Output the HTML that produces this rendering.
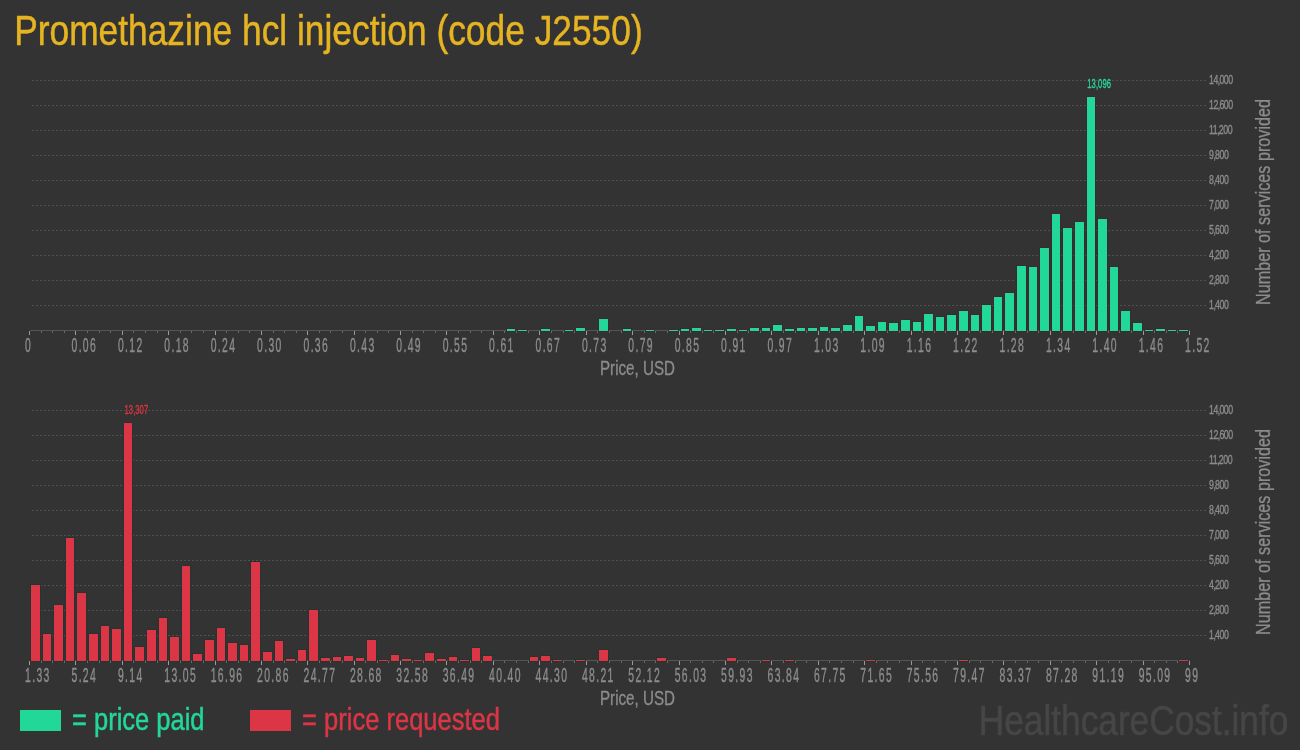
<!DOCTYPE html>
<html><head><meta charset="utf-8"><style>
html,body{margin:0;padding:0;background:#333333;width:1300px;height:750px;overflow:hidden}
svg{display:block;will-change:transform}
</style></head><body>
<svg shape-rendering="crispEdges" width="1300" height="750" viewBox="0 0 1300 750">
<rect width="1300" height="750" fill="#333333"/>
<text x="14.2" y="45" font-size="42" fill="#e6b422" stroke="#e6b422" stroke-width="0.5" textLength="628.5" lengthAdjust="spacingAndGlyphs" font-family="Liberation Sans, sans-serif">Promethazine hcl injection (code J2550)</text>
<line x1="32" y1="80.5" x2="1206" y2="80.5" stroke="#505050" stroke-width="1" stroke-dasharray="2,2"/>
<line x1="32" y1="105.5" x2="1206" y2="105.5" stroke="#505050" stroke-width="1" stroke-dasharray="2,2"/>
<line x1="32" y1="130.5" x2="1206" y2="130.5" stroke="#505050" stroke-width="1" stroke-dasharray="2,2"/>
<line x1="32" y1="155.5" x2="1206" y2="155.5" stroke="#505050" stroke-width="1" stroke-dasharray="2,2"/>
<line x1="32" y1="180.5" x2="1206" y2="180.5" stroke="#505050" stroke-width="1" stroke-dasharray="2,2"/>
<line x1="32" y1="205.5" x2="1206" y2="205.5" stroke="#505050" stroke-width="1" stroke-dasharray="2,2"/>
<line x1="32" y1="230.5" x2="1206" y2="230.5" stroke="#505050" stroke-width="1" stroke-dasharray="2,2"/>
<line x1="32" y1="255.5" x2="1206" y2="255.5" stroke="#505050" stroke-width="1" stroke-dasharray="2,2"/>
<line x1="32" y1="280.5" x2="1206" y2="280.5" stroke="#505050" stroke-width="1" stroke-dasharray="2,2"/>
<line x1="32" y1="305.5" x2="1206" y2="305.5" stroke="#505050" stroke-width="1" stroke-dasharray="2,2"/>
<line x1="29.5" y1="330.5" x2="1189.5" y2="330.5" stroke="#555555" stroke-width="1"/>
<rect x="506" y="328" width="10" height="4" fill="#3b2a30"/>
<rect x="507" y="329" width="8" height="2" fill="#22d898"/>
<rect x="517" y="329" width="11" height="3" fill="#3b2a30"/>
<rect x="518" y="330" width="9" height="1" fill="#22d898"/>
<rect x="540" y="328" width="11" height="4" fill="#3b2a30"/>
<rect x="541" y="329" width="9" height="2" fill="#22d898"/>
<rect x="564" y="329" width="10" height="3" fill="#3b2a30"/>
<rect x="565" y="330" width="8" height="1" fill="#22d898"/>
<rect x="575" y="327" width="11" height="5" fill="#3b2a30"/>
<rect x="576" y="328" width="9" height="3" fill="#22d898"/>
<rect x="598" y="318" width="11" height="14" fill="#3b2a30"/>
<rect x="599" y="319" width="9" height="12" fill="#22d898"/>
<rect x="622" y="328" width="10" height="4" fill="#3b2a30"/>
<rect x="623" y="329" width="8" height="2" fill="#22d898"/>
<rect x="645" y="329" width="10" height="3" fill="#3b2a30"/>
<rect x="646" y="330" width="8" height="1" fill="#22d898"/>
<rect x="668" y="329" width="11" height="3" fill="#3b2a30"/>
<rect x="669" y="330" width="9" height="1" fill="#22d898"/>
<rect x="680" y="328" width="10" height="4" fill="#3b2a30"/>
<rect x="681" y="329" width="8" height="2" fill="#22d898"/>
<rect x="691" y="327" width="11" height="5" fill="#3b2a30"/>
<rect x="692" y="328" width="9" height="3" fill="#22d898"/>
<rect x="703" y="329" width="10" height="3" fill="#3b2a30"/>
<rect x="704" y="330" width="8" height="1" fill="#22d898"/>
<rect x="714" y="329" width="11" height="3" fill="#3b2a30"/>
<rect x="715" y="330" width="9" height="1" fill="#22d898"/>
<rect x="726" y="328" width="11" height="4" fill="#3b2a30"/>
<rect x="727" y="329" width="9" height="2" fill="#22d898"/>
<rect x="738" y="329" width="10" height="3" fill="#3b2a30"/>
<rect x="739" y="330" width="8" height="1" fill="#22d898"/>
<rect x="749" y="327" width="11" height="5" fill="#3b2a30"/>
<rect x="750" y="328" width="9" height="3" fill="#22d898"/>
<rect x="761" y="327" width="10" height="5" fill="#3b2a30"/>
<rect x="762" y="328" width="8" height="3" fill="#22d898"/>
<rect x="772" y="324" width="11" height="8" fill="#3b2a30"/>
<rect x="773" y="325" width="9" height="6" fill="#22d898"/>
<rect x="784" y="328" width="11" height="4" fill="#3b2a30"/>
<rect x="785" y="329" width="9" height="2" fill="#22d898"/>
<rect x="796" y="327" width="10" height="5" fill="#3b2a30"/>
<rect x="797" y="328" width="8" height="3" fill="#22d898"/>
<rect x="807" y="327" width="11" height="5" fill="#3b2a30"/>
<rect x="808" y="328" width="9" height="3" fill="#22d898"/>
<rect x="819" y="326" width="10" height="6" fill="#3b2a30"/>
<rect x="820" y="327" width="8" height="4" fill="#22d898"/>
<rect x="830" y="327" width="11" height="5" fill="#3b2a30"/>
<rect x="831" y="328" width="9" height="3" fill="#22d898"/>
<rect x="842" y="324" width="11" height="8" fill="#3b2a30"/>
<rect x="843" y="325" width="9" height="6" fill="#22d898"/>
<rect x="854" y="315" width="10" height="17" fill="#3b2a30"/>
<rect x="855" y="316" width="8" height="15" fill="#22d898"/>
<rect x="865" y="325" width="11" height="7" fill="#3b2a30"/>
<rect x="866" y="326" width="9" height="5" fill="#22d898"/>
<rect x="877" y="321" width="10" height="11" fill="#3b2a30"/>
<rect x="878" y="322" width="8" height="9" fill="#22d898"/>
<rect x="888" y="322" width="11" height="10" fill="#3b2a30"/>
<rect x="889" y="323" width="9" height="8" fill="#22d898"/>
<rect x="900" y="319" width="11" height="13" fill="#3b2a30"/>
<rect x="901" y="320" width="9" height="11" fill="#22d898"/>
<rect x="912" y="321" width="10" height="11" fill="#3b2a30"/>
<rect x="913" y="322" width="8" height="9" fill="#22d898"/>
<rect x="923" y="313" width="11" height="19" fill="#3b2a30"/>
<rect x="924" y="314" width="9" height="17" fill="#22d898"/>
<rect x="935" y="316" width="10" height="16" fill="#3b2a30"/>
<rect x="936" y="317" width="8" height="14" fill="#22d898"/>
<rect x="946" y="314" width="11" height="18" fill="#3b2a30"/>
<rect x="947" y="315" width="9" height="16" fill="#22d898"/>
<rect x="958" y="310" width="11" height="22" fill="#3b2a30"/>
<rect x="959" y="311" width="9" height="20" fill="#22d898"/>
<rect x="970" y="314" width="10" height="18" fill="#3b2a30"/>
<rect x="971" y="315" width="8" height="16" fill="#22d898"/>
<rect x="981" y="304" width="11" height="28" fill="#3b2a30"/>
<rect x="982" y="305" width="9" height="26" fill="#22d898"/>
<rect x="993" y="296" width="10" height="36" fill="#3b2a30"/>
<rect x="994" y="297" width="8" height="34" fill="#22d898"/>
<rect x="1004" y="292" width="11" height="40" fill="#3b2a30"/>
<rect x="1005" y="293" width="9" height="38" fill="#22d898"/>
<rect x="1016" y="265" width="11" height="67" fill="#3b2a30"/>
<rect x="1017" y="266" width="9" height="65" fill="#22d898"/>
<rect x="1028" y="266" width="10" height="66" fill="#3b2a30"/>
<rect x="1029" y="267" width="8" height="64" fill="#22d898"/>
<rect x="1039" y="247" width="11" height="85" fill="#3b2a30"/>
<rect x="1040" y="248" width="9" height="83" fill="#22d898"/>
<rect x="1051" y="213" width="10" height="119" fill="#3b2a30"/>
<rect x="1052" y="214" width="8" height="117" fill="#22d898"/>
<rect x="1062" y="227" width="11" height="105" fill="#3b2a30"/>
<rect x="1063" y="228" width="9" height="103" fill="#22d898"/>
<rect x="1074" y="221" width="11" height="111" fill="#3b2a30"/>
<rect x="1075" y="222" width="9" height="109" fill="#22d898"/>
<rect x="1086" y="96" width="10" height="236" fill="#3b2a30"/>
<rect x="1087" y="97" width="8" height="234" fill="#22d898"/>
<rect x="1097" y="218" width="11" height="114" fill="#3b2a30"/>
<rect x="1098" y="219" width="9" height="112" fill="#22d898"/>
<rect x="1109" y="266" width="10" height="66" fill="#3b2a30"/>
<rect x="1110" y="267" width="8" height="64" fill="#22d898"/>
<rect x="1120" y="310" width="11" height="22" fill="#3b2a30"/>
<rect x="1121" y="311" width="9" height="20" fill="#22d898"/>
<rect x="1132" y="322" width="11" height="10" fill="#3b2a30"/>
<rect x="1133" y="323" width="9" height="8" fill="#22d898"/>
<rect x="1144" y="329" width="10" height="3" fill="#3b2a30"/>
<rect x="1145" y="330" width="8" height="1" fill="#22d898"/>
<rect x="1155" y="328" width="11" height="4" fill="#3b2a30"/>
<rect x="1156" y="329" width="9" height="2" fill="#22d898"/>
<rect x="1167" y="329" width="10" height="3" fill="#3b2a30"/>
<rect x="1168" y="330" width="8" height="1" fill="#22d898"/>
<rect x="1178" y="329" width="11" height="3" fill="#3b2a30"/>
<rect x="1179" y="330" width="9" height="1" fill="#22d898"/>
<line x1="29.5" y1="331" x2="29.5" y2="335" stroke="#9a9a9a" stroke-width="1"/>
<line x1="41.5" y1="331" x2="41.5" y2="333" stroke="#6a6a6a" stroke-width="1"/>
<line x1="52.5" y1="331" x2="52.5" y2="333" stroke="#6a6a6a" stroke-width="1"/>
<line x1="64.5" y1="331" x2="64.5" y2="333" stroke="#6a6a6a" stroke-width="1"/>
<line x1="75.5" y1="331" x2="75.5" y2="335" stroke="#9a9a9a" stroke-width="1"/>
<line x1="87.5" y1="331" x2="87.5" y2="333" stroke="#6a6a6a" stroke-width="1"/>
<line x1="99.5" y1="331" x2="99.5" y2="333" stroke="#6a6a6a" stroke-width="1"/>
<line x1="110.5" y1="331" x2="110.5" y2="333" stroke="#6a6a6a" stroke-width="1"/>
<line x1="122.5" y1="331" x2="122.5" y2="335" stroke="#9a9a9a" stroke-width="1"/>
<line x1="133.5" y1="331" x2="133.5" y2="333" stroke="#6a6a6a" stroke-width="1"/>
<line x1="145.5" y1="331" x2="145.5" y2="333" stroke="#6a6a6a" stroke-width="1"/>
<line x1="157.5" y1="331" x2="157.5" y2="333" stroke="#6a6a6a" stroke-width="1"/>
<line x1="168.5" y1="331" x2="168.5" y2="335" stroke="#9a9a9a" stroke-width="1"/>
<line x1="180.5" y1="331" x2="180.5" y2="333" stroke="#6a6a6a" stroke-width="1"/>
<line x1="191.5" y1="331" x2="191.5" y2="333" stroke="#6a6a6a" stroke-width="1"/>
<line x1="203.5" y1="331" x2="203.5" y2="333" stroke="#6a6a6a" stroke-width="1"/>
<line x1="215.5" y1="331" x2="215.5" y2="335" stroke="#9a9a9a" stroke-width="1"/>
<line x1="226.5" y1="331" x2="226.5" y2="333" stroke="#6a6a6a" stroke-width="1"/>
<line x1="238.5" y1="331" x2="238.5" y2="333" stroke="#6a6a6a" stroke-width="1"/>
<line x1="249.5" y1="331" x2="249.5" y2="333" stroke="#6a6a6a" stroke-width="1"/>
<line x1="261.5" y1="331" x2="261.5" y2="335" stroke="#9a9a9a" stroke-width="1"/>
<line x1="273.5" y1="331" x2="273.5" y2="333" stroke="#6a6a6a" stroke-width="1"/>
<line x1="284.5" y1="331" x2="284.5" y2="333" stroke="#6a6a6a" stroke-width="1"/>
<line x1="296.5" y1="331" x2="296.5" y2="333" stroke="#6a6a6a" stroke-width="1"/>
<line x1="307.5" y1="331" x2="307.5" y2="335" stroke="#9a9a9a" stroke-width="1"/>
<line x1="319.5" y1="331" x2="319.5" y2="333" stroke="#6a6a6a" stroke-width="1"/>
<line x1="330.5" y1="331" x2="330.5" y2="333" stroke="#6a6a6a" stroke-width="1"/>
<line x1="342.5" y1="331" x2="342.5" y2="333" stroke="#6a6a6a" stroke-width="1"/>
<line x1="354.5" y1="331" x2="354.5" y2="335" stroke="#9a9a9a" stroke-width="1"/>
<line x1="365.5" y1="331" x2="365.5" y2="333" stroke="#6a6a6a" stroke-width="1"/>
<line x1="377.5" y1="331" x2="377.5" y2="333" stroke="#6a6a6a" stroke-width="1"/>
<line x1="388.5" y1="331" x2="388.5" y2="333" stroke="#6a6a6a" stroke-width="1"/>
<line x1="400.5" y1="331" x2="400.5" y2="335" stroke="#9a9a9a" stroke-width="1"/>
<line x1="412.5" y1="331" x2="412.5" y2="333" stroke="#6a6a6a" stroke-width="1"/>
<line x1="423.5" y1="331" x2="423.5" y2="333" stroke="#6a6a6a" stroke-width="1"/>
<line x1="435.5" y1="331" x2="435.5" y2="333" stroke="#6a6a6a" stroke-width="1"/>
<line x1="446.5" y1="331" x2="446.5" y2="335" stroke="#9a9a9a" stroke-width="1"/>
<line x1="458.5" y1="331" x2="458.5" y2="333" stroke="#6a6a6a" stroke-width="1"/>
<line x1="470.5" y1="331" x2="470.5" y2="333" stroke="#6a6a6a" stroke-width="1"/>
<line x1="481.5" y1="331" x2="481.5" y2="333" stroke="#6a6a6a" stroke-width="1"/>
<line x1="493.5" y1="331" x2="493.5" y2="335" stroke="#9a9a9a" stroke-width="1"/>
<line x1="504.5" y1="331" x2="504.5" y2="333" stroke="#6a6a6a" stroke-width="1"/>
<line x1="516.5" y1="331" x2="516.5" y2="333" stroke="#6a6a6a" stroke-width="1"/>
<line x1="528.5" y1="331" x2="528.5" y2="333" stroke="#6a6a6a" stroke-width="1"/>
<line x1="539.5" y1="331" x2="539.5" y2="335" stroke="#9a9a9a" stroke-width="1"/>
<line x1="551.5" y1="331" x2="551.5" y2="333" stroke="#6a6a6a" stroke-width="1"/>
<line x1="563.5" y1="331" x2="563.5" y2="333" stroke="#6a6a6a" stroke-width="1"/>
<line x1="574.5" y1="331" x2="574.5" y2="333" stroke="#6a6a6a" stroke-width="1"/>
<line x1="586.5" y1="331" x2="586.5" y2="335" stroke="#9a9a9a" stroke-width="1"/>
<line x1="597.5" y1="331" x2="597.5" y2="333" stroke="#6a6a6a" stroke-width="1"/>
<line x1="609.5" y1="331" x2="609.5" y2="333" stroke="#6a6a6a" stroke-width="1"/>
<line x1="621.5" y1="331" x2="621.5" y2="333" stroke="#6a6a6a" stroke-width="1"/>
<line x1="632.5" y1="331" x2="632.5" y2="335" stroke="#9a9a9a" stroke-width="1"/>
<line x1="644.5" y1="331" x2="644.5" y2="333" stroke="#6a6a6a" stroke-width="1"/>
<line x1="655.5" y1="331" x2="655.5" y2="333" stroke="#6a6a6a" stroke-width="1"/>
<line x1="667.5" y1="331" x2="667.5" y2="333" stroke="#6a6a6a" stroke-width="1"/>
<line x1="679.5" y1="331" x2="679.5" y2="335" stroke="#9a9a9a" stroke-width="1"/>
<line x1="690.5" y1="331" x2="690.5" y2="333" stroke="#6a6a6a" stroke-width="1"/>
<line x1="702.5" y1="331" x2="702.5" y2="333" stroke="#6a6a6a" stroke-width="1"/>
<line x1="713.5" y1="331" x2="713.5" y2="333" stroke="#6a6a6a" stroke-width="1"/>
<line x1="725.5" y1="331" x2="725.5" y2="335" stroke="#9a9a9a" stroke-width="1"/>
<line x1="737.5" y1="331" x2="737.5" y2="333" stroke="#6a6a6a" stroke-width="1"/>
<line x1="748.5" y1="331" x2="748.5" y2="333" stroke="#6a6a6a" stroke-width="1"/>
<line x1="760.5" y1="331" x2="760.5" y2="333" stroke="#6a6a6a" stroke-width="1"/>
<line x1="771.5" y1="331" x2="771.5" y2="335" stroke="#9a9a9a" stroke-width="1"/>
<line x1="783.5" y1="331" x2="783.5" y2="333" stroke="#6a6a6a" stroke-width="1"/>
<line x1="795.5" y1="331" x2="795.5" y2="333" stroke="#6a6a6a" stroke-width="1"/>
<line x1="806.5" y1="331" x2="806.5" y2="333" stroke="#6a6a6a" stroke-width="1"/>
<line x1="818.5" y1="331" x2="818.5" y2="335" stroke="#9a9a9a" stroke-width="1"/>
<line x1="829.5" y1="331" x2="829.5" y2="333" stroke="#6a6a6a" stroke-width="1"/>
<line x1="841.5" y1="331" x2="841.5" y2="333" stroke="#6a6a6a" stroke-width="1"/>
<line x1="853.5" y1="331" x2="853.5" y2="333" stroke="#6a6a6a" stroke-width="1"/>
<line x1="864.5" y1="331" x2="864.5" y2="335" stroke="#9a9a9a" stroke-width="1"/>
<line x1="876.5" y1="331" x2="876.5" y2="333" stroke="#6a6a6a" stroke-width="1"/>
<line x1="887.5" y1="331" x2="887.5" y2="333" stroke="#6a6a6a" stroke-width="1"/>
<line x1="899.5" y1="331" x2="899.5" y2="333" stroke="#6a6a6a" stroke-width="1"/>
<line x1="911.5" y1="331" x2="911.5" y2="335" stroke="#9a9a9a" stroke-width="1"/>
<line x1="922.5" y1="331" x2="922.5" y2="333" stroke="#6a6a6a" stroke-width="1"/>
<line x1="934.5" y1="331" x2="934.5" y2="333" stroke="#6a6a6a" stroke-width="1"/>
<line x1="945.5" y1="331" x2="945.5" y2="333" stroke="#6a6a6a" stroke-width="1"/>
<line x1="957.5" y1="331" x2="957.5" y2="335" stroke="#9a9a9a" stroke-width="1"/>
<line x1="969.5" y1="331" x2="969.5" y2="333" stroke="#6a6a6a" stroke-width="1"/>
<line x1="980.5" y1="331" x2="980.5" y2="333" stroke="#6a6a6a" stroke-width="1"/>
<line x1="992.5" y1="331" x2="992.5" y2="333" stroke="#6a6a6a" stroke-width="1"/>
<line x1="1003.5" y1="331" x2="1003.5" y2="335" stroke="#9a9a9a" stroke-width="1"/>
<line x1="1015.5" y1="331" x2="1015.5" y2="333" stroke="#6a6a6a" stroke-width="1"/>
<line x1="1027.5" y1="331" x2="1027.5" y2="333" stroke="#6a6a6a" stroke-width="1"/>
<line x1="1038.5" y1="331" x2="1038.5" y2="333" stroke="#6a6a6a" stroke-width="1"/>
<line x1="1050.5" y1="331" x2="1050.5" y2="335" stroke="#9a9a9a" stroke-width="1"/>
<line x1="1061.5" y1="331" x2="1061.5" y2="333" stroke="#6a6a6a" stroke-width="1"/>
<line x1="1073.5" y1="331" x2="1073.5" y2="333" stroke="#6a6a6a" stroke-width="1"/>
<line x1="1085.5" y1="331" x2="1085.5" y2="333" stroke="#6a6a6a" stroke-width="1"/>
<line x1="1096.5" y1="331" x2="1096.5" y2="335" stroke="#9a9a9a" stroke-width="1"/>
<line x1="1108.5" y1="331" x2="1108.5" y2="333" stroke="#6a6a6a" stroke-width="1"/>
<line x1="1119.5" y1="331" x2="1119.5" y2="333" stroke="#6a6a6a" stroke-width="1"/>
<line x1="1131.5" y1="331" x2="1131.5" y2="333" stroke="#6a6a6a" stroke-width="1"/>
<line x1="1143.5" y1="331" x2="1143.5" y2="335" stroke="#9a9a9a" stroke-width="1"/>
<line x1="1154.5" y1="331" x2="1154.5" y2="333" stroke="#6a6a6a" stroke-width="1"/>
<line x1="1166.5" y1="331" x2="1166.5" y2="333" stroke="#6a6a6a" stroke-width="1"/>
<line x1="1177.5" y1="331" x2="1177.5" y2="333" stroke="#6a6a6a" stroke-width="1"/>
<line x1="1189.5" y1="331" x2="1189.5" y2="335" stroke="#9a9a9a" stroke-width="1"/>
<text transform="translate(25.1,351.6) scale(0.52,1)" font-size="20" letter-spacing="2.6" fill="#8c8c8c" stroke="#8c8c8c" stroke-width="0.4" font-family="Liberation Sans, sans-serif">0</text>
<text transform="translate(71.5,351.6) scale(0.52,1)" font-size="20" letter-spacing="2.6" fill="#8c8c8c" stroke="#8c8c8c" stroke-width="0.4" font-family="Liberation Sans, sans-serif">0.06</text>
<text transform="translate(117.9,351.6) scale(0.52,1)" font-size="20" letter-spacing="2.6" fill="#8c8c8c" stroke="#8c8c8c" stroke-width="0.4" font-family="Liberation Sans, sans-serif">0.12</text>
<text transform="translate(164.3,351.6) scale(0.52,1)" font-size="20" letter-spacing="2.6" fill="#8c8c8c" stroke="#8c8c8c" stroke-width="0.4" font-family="Liberation Sans, sans-serif">0.18</text>
<text transform="translate(210.7,351.6) scale(0.52,1)" font-size="20" letter-spacing="2.6" fill="#8c8c8c" stroke="#8c8c8c" stroke-width="0.4" font-family="Liberation Sans, sans-serif">0.24</text>
<text transform="translate(257.1,351.6) scale(0.52,1)" font-size="20" letter-spacing="2.6" fill="#8c8c8c" stroke="#8c8c8c" stroke-width="0.4" font-family="Liberation Sans, sans-serif">0.30</text>
<text transform="translate(303.5,351.6) scale(0.52,1)" font-size="20" letter-spacing="2.6" fill="#8c8c8c" stroke="#8c8c8c" stroke-width="0.4" font-family="Liberation Sans, sans-serif">0.36</text>
<text transform="translate(349.9,351.6) scale(0.52,1)" font-size="20" letter-spacing="2.6" fill="#8c8c8c" stroke="#8c8c8c" stroke-width="0.4" font-family="Liberation Sans, sans-serif">0.43</text>
<text transform="translate(396.3,351.6) scale(0.52,1)" font-size="20" letter-spacing="2.6" fill="#8c8c8c" stroke="#8c8c8c" stroke-width="0.4" font-family="Liberation Sans, sans-serif">0.49</text>
<text transform="translate(442.7,351.6) scale(0.52,1)" font-size="20" letter-spacing="2.6" fill="#8c8c8c" stroke="#8c8c8c" stroke-width="0.4" font-family="Liberation Sans, sans-serif">0.55</text>
<text transform="translate(489.1,351.6) scale(0.52,1)" font-size="20" letter-spacing="2.6" fill="#8c8c8c" stroke="#8c8c8c" stroke-width="0.4" font-family="Liberation Sans, sans-serif">0.61</text>
<text transform="translate(535.5,351.6) scale(0.52,1)" font-size="20" letter-spacing="2.6" fill="#8c8c8c" stroke="#8c8c8c" stroke-width="0.4" font-family="Liberation Sans, sans-serif">0.67</text>
<text transform="translate(581.9,351.6) scale(0.52,1)" font-size="20" letter-spacing="2.6" fill="#8c8c8c" stroke="#8c8c8c" stroke-width="0.4" font-family="Liberation Sans, sans-serif">0.73</text>
<text transform="translate(628.3,351.6) scale(0.52,1)" font-size="20" letter-spacing="2.6" fill="#8c8c8c" stroke="#8c8c8c" stroke-width="0.4" font-family="Liberation Sans, sans-serif">0.79</text>
<text transform="translate(674.7,351.6) scale(0.52,1)" font-size="20" letter-spacing="2.6" fill="#8c8c8c" stroke="#8c8c8c" stroke-width="0.4" font-family="Liberation Sans, sans-serif">0.85</text>
<text transform="translate(721.1,351.6) scale(0.52,1)" font-size="20" letter-spacing="2.6" fill="#8c8c8c" stroke="#8c8c8c" stroke-width="0.4" font-family="Liberation Sans, sans-serif">0.91</text>
<text transform="translate(767.5,351.6) scale(0.52,1)" font-size="20" letter-spacing="2.6" fill="#8c8c8c" stroke="#8c8c8c" stroke-width="0.4" font-family="Liberation Sans, sans-serif">0.97</text>
<text transform="translate(813.9,351.6) scale(0.52,1)" font-size="20" letter-spacing="2.6" fill="#8c8c8c" stroke="#8c8c8c" stroke-width="0.4" font-family="Liberation Sans, sans-serif">1.03</text>
<text transform="translate(860.3,351.6) scale(0.52,1)" font-size="20" letter-spacing="2.6" fill="#8c8c8c" stroke="#8c8c8c" stroke-width="0.4" font-family="Liberation Sans, sans-serif">1.09</text>
<text transform="translate(906.7,351.6) scale(0.52,1)" font-size="20" letter-spacing="2.6" fill="#8c8c8c" stroke="#8c8c8c" stroke-width="0.4" font-family="Liberation Sans, sans-serif">1.16</text>
<text transform="translate(953.1,351.6) scale(0.52,1)" font-size="20" letter-spacing="2.6" fill="#8c8c8c" stroke="#8c8c8c" stroke-width="0.4" font-family="Liberation Sans, sans-serif">1.22</text>
<text transform="translate(999.5,351.6) scale(0.52,1)" font-size="20" letter-spacing="2.6" fill="#8c8c8c" stroke="#8c8c8c" stroke-width="0.4" font-family="Liberation Sans, sans-serif">1.28</text>
<text transform="translate(1045.9,351.6) scale(0.52,1)" font-size="20" letter-spacing="2.6" fill="#8c8c8c" stroke="#8c8c8c" stroke-width="0.4" font-family="Liberation Sans, sans-serif">1.34</text>
<text transform="translate(1092.3,351.6) scale(0.52,1)" font-size="20" letter-spacing="2.6" fill="#8c8c8c" stroke="#8c8c8c" stroke-width="0.4" font-family="Liberation Sans, sans-serif">1.40</text>
<text transform="translate(1138.7,351.6) scale(0.52,1)" font-size="20" letter-spacing="2.6" fill="#8c8c8c" stroke="#8c8c8c" stroke-width="0.4" font-family="Liberation Sans, sans-serif">1.46</text>
<text transform="translate(1185.1,351.6) scale(0.52,1)" font-size="20" letter-spacing="2.6" fill="#8c8c8c" stroke="#8c8c8c" stroke-width="0.4" font-family="Liberation Sans, sans-serif">1.52</text>
<text transform="translate(1208.8999999999999,84.2) scale(0.7,1)" font-size="12.6" letter-spacing="-0.6" fill="#8c8c8c" stroke="#8c8c8c" stroke-width="0.35" font-family="Liberation Sans, sans-serif">14,<tspan dx="-0.7">000</tspan></text>
<text transform="translate(1208.8999999999999,109.2) scale(0.7,1)" font-size="12.6" letter-spacing="-0.6" fill="#8c8c8c" stroke="#8c8c8c" stroke-width="0.35" font-family="Liberation Sans, sans-serif">12,<tspan dx="-0.7">600</tspan></text>
<text transform="translate(1208.8999999999999,134.2) scale(0.7,1)" font-size="12.6" letter-spacing="-0.6" fill="#8c8c8c" stroke="#8c8c8c" stroke-width="0.35" font-family="Liberation Sans, sans-serif">11,<tspan dx="-0.7">200</tspan></text>
<text transform="translate(1208.8999999999999,159.2) scale(0.7,1)" font-size="12.6" letter-spacing="-0.6" fill="#8c8c8c" stroke="#8c8c8c" stroke-width="0.35" font-family="Liberation Sans, sans-serif">9,<tspan dx="-0.7">800</tspan></text>
<text transform="translate(1208.8999999999999,184.2) scale(0.7,1)" font-size="12.6" letter-spacing="-0.6" fill="#8c8c8c" stroke="#8c8c8c" stroke-width="0.35" font-family="Liberation Sans, sans-serif">8,<tspan dx="-0.7">400</tspan></text>
<text transform="translate(1208.8999999999999,209.2) scale(0.7,1)" font-size="12.6" letter-spacing="-0.6" fill="#8c8c8c" stroke="#8c8c8c" stroke-width="0.35" font-family="Liberation Sans, sans-serif">7,<tspan dx="-0.7">000</tspan></text>
<text transform="translate(1208.8999999999999,234.2) scale(0.7,1)" font-size="12.6" letter-spacing="-0.6" fill="#8c8c8c" stroke="#8c8c8c" stroke-width="0.35" font-family="Liberation Sans, sans-serif">5,<tspan dx="-0.7">600</tspan></text>
<text transform="translate(1208.8999999999999,259.2) scale(0.7,1)" font-size="12.6" letter-spacing="-0.6" fill="#8c8c8c" stroke="#8c8c8c" stroke-width="0.35" font-family="Liberation Sans, sans-serif">4,<tspan dx="-0.7">200</tspan></text>
<text transform="translate(1208.8999999999999,284.2) scale(0.7,1)" font-size="12.6" letter-spacing="-0.6" fill="#8c8c8c" stroke="#8c8c8c" stroke-width="0.35" font-family="Liberation Sans, sans-serif">2,<tspan dx="-0.7">800</tspan></text>
<text transform="translate(1208.8999999999999,309.2) scale(0.7,1)" font-size="12.6" letter-spacing="-0.6" fill="#8c8c8c" stroke="#8c8c8c" stroke-width="0.35" font-family="Liberation Sans, sans-serif">1,<tspan dx="-0.7">400</tspan></text>
<text x="600" y="374.8" font-size="19.3" fill="#8c8c8c" stroke="#8c8c8c" stroke-width="0.3" textLength="75" lengthAdjust="spacingAndGlyphs" font-family="Liberation Sans, sans-serif">Price, USD</text>
<text transform="translate(1269.5,305) rotate(-90)" x="0" y="0" font-size="21" fill="#8c8c8c" stroke="#8c8c8c" stroke-width="0.3" textLength="206" lengthAdjust="spacingAndGlyphs" font-family="Liberation Sans, sans-serif">Number of services provided</text>
<text transform="translate(1087.2,87.7) scale(0.6,1)" font-size="12.8" letter-spacing="0.2" fill="#3b2a30" stroke="#3b2a30" stroke-width="2" stroke-opacity="0.8" font-family="Liberation Sans, sans-serif">13,<tspan dx="-0.4">096</tspan></text>
<text transform="translate(1087.2,87.7) scale(0.6,1)" font-size="12.8" letter-spacing="0.2" fill="#22d898" stroke="#22d898" stroke-width="0.45" font-family="Liberation Sans, sans-serif">13,<tspan dx="-0.4">096</tspan></text>
<line x1="32" y1="410.5" x2="1206" y2="410.5" stroke="#505050" stroke-width="1" stroke-dasharray="2,2"/>
<line x1="32" y1="435.5" x2="1206" y2="435.5" stroke="#505050" stroke-width="1" stroke-dasharray="2,2"/>
<line x1="32" y1="460.5" x2="1206" y2="460.5" stroke="#505050" stroke-width="1" stroke-dasharray="2,2"/>
<line x1="32" y1="485.5" x2="1206" y2="485.5" stroke="#505050" stroke-width="1" stroke-dasharray="2,2"/>
<line x1="32" y1="510.5" x2="1206" y2="510.5" stroke="#505050" stroke-width="1" stroke-dasharray="2,2"/>
<line x1="32" y1="535.5" x2="1206" y2="535.5" stroke="#505050" stroke-width="1" stroke-dasharray="2,2"/>
<line x1="32" y1="560.5" x2="1206" y2="560.5" stroke="#505050" stroke-width="1" stroke-dasharray="2,2"/>
<line x1="32" y1="585.5" x2="1206" y2="585.5" stroke="#505050" stroke-width="1" stroke-dasharray="2,2"/>
<line x1="32" y1="610.5" x2="1206" y2="610.5" stroke="#505050" stroke-width="1" stroke-dasharray="2,2"/>
<line x1="32" y1="635.5" x2="1206" y2="635.5" stroke="#505050" stroke-width="1" stroke-dasharray="2,2"/>
<line x1="29.5" y1="660.5" x2="1189.5" y2="660.5" stroke="#555555" stroke-width="1"/>
<rect x="30" y="584" width="11" height="78" fill="#26332f"/>
<rect x="31" y="585" width="9" height="76" fill="#dc3545"/>
<rect x="42" y="633" width="10" height="29" fill="#26332f"/>
<rect x="43" y="634" width="8" height="27" fill="#dc3545"/>
<rect x="53" y="604" width="11" height="58" fill="#26332f"/>
<rect x="54" y="605" width="9" height="56" fill="#dc3545"/>
<rect x="65" y="537" width="10" height="125" fill="#26332f"/>
<rect x="66" y="538" width="8" height="123" fill="#dc3545"/>
<rect x="76" y="592" width="11" height="70" fill="#26332f"/>
<rect x="77" y="593" width="9" height="68" fill="#dc3545"/>
<rect x="88" y="633" width="11" height="29" fill="#26332f"/>
<rect x="89" y="634" width="9" height="27" fill="#dc3545"/>
<rect x="100" y="625" width="10" height="37" fill="#26332f"/>
<rect x="101" y="626" width="8" height="35" fill="#dc3545"/>
<rect x="111" y="628" width="11" height="34" fill="#26332f"/>
<rect x="112" y="629" width="9" height="32" fill="#dc3545"/>
<rect x="123" y="422" width="10" height="240" fill="#26332f"/>
<rect x="124" y="423" width="8" height="238" fill="#dc3545"/>
<rect x="134" y="646" width="11" height="16" fill="#26332f"/>
<rect x="135" y="647" width="9" height="14" fill="#dc3545"/>
<rect x="146" y="629" width="11" height="33" fill="#26332f"/>
<rect x="147" y="630" width="9" height="31" fill="#dc3545"/>
<rect x="158" y="617" width="10" height="45" fill="#26332f"/>
<rect x="159" y="618" width="8" height="43" fill="#dc3545"/>
<rect x="169" y="636" width="11" height="26" fill="#26332f"/>
<rect x="170" y="637" width="9" height="24" fill="#dc3545"/>
<rect x="181" y="565" width="10" height="97" fill="#26332f"/>
<rect x="182" y="566" width="8" height="95" fill="#dc3545"/>
<rect x="192" y="653" width="11" height="9" fill="#26332f"/>
<rect x="193" y="654" width="9" height="7" fill="#dc3545"/>
<rect x="204" y="639" width="11" height="23" fill="#26332f"/>
<rect x="205" y="640" width="9" height="21" fill="#dc3545"/>
<rect x="216" y="627" width="10" height="35" fill="#26332f"/>
<rect x="217" y="628" width="8" height="33" fill="#dc3545"/>
<rect x="227" y="642" width="11" height="20" fill="#26332f"/>
<rect x="228" y="643" width="9" height="18" fill="#dc3545"/>
<rect x="239" y="644" width="10" height="18" fill="#26332f"/>
<rect x="240" y="645" width="8" height="16" fill="#dc3545"/>
<rect x="250" y="561" width="11" height="101" fill="#26332f"/>
<rect x="251" y="562" width="9" height="99" fill="#dc3545"/>
<rect x="262" y="651" width="11" height="11" fill="#26332f"/>
<rect x="263" y="652" width="9" height="9" fill="#dc3545"/>
<rect x="274" y="640" width="10" height="22" fill="#26332f"/>
<rect x="275" y="641" width="8" height="20" fill="#dc3545"/>
<rect x="285" y="658" width="11" height="4" fill="#26332f"/>
<rect x="286" y="659" width="9" height="2" fill="#dc3545"/>
<rect x="297" y="649" width="10" height="13" fill="#26332f"/>
<rect x="298" y="650" width="8" height="11" fill="#dc3545"/>
<rect x="308" y="609" width="11" height="53" fill="#26332f"/>
<rect x="309" y="610" width="9" height="51" fill="#dc3545"/>
<rect x="320" y="657" width="11" height="5" fill="#26332f"/>
<rect x="321" y="658" width="9" height="3" fill="#dc3545"/>
<rect x="332" y="656" width="10" height="6" fill="#26332f"/>
<rect x="333" y="657" width="8" height="4" fill="#dc3545"/>
<rect x="343" y="655" width="11" height="7" fill="#26332f"/>
<rect x="344" y="656" width="9" height="5" fill="#dc3545"/>
<rect x="355" y="657" width="10" height="5" fill="#26332f"/>
<rect x="356" y="658" width="8" height="3" fill="#dc3545"/>
<rect x="366" y="639" width="11" height="23" fill="#26332f"/>
<rect x="367" y="640" width="9" height="21" fill="#dc3545"/>
<rect x="378" y="659" width="11" height="3" fill="#26332f"/>
<rect x="379" y="660" width="9" height="1" fill="#dc3545"/>
<rect x="390" y="654" width="10" height="8" fill="#26332f"/>
<rect x="391" y="655" width="8" height="6" fill="#dc3545"/>
<rect x="401" y="658" width="11" height="4" fill="#26332f"/>
<rect x="402" y="659" width="9" height="2" fill="#dc3545"/>
<rect x="413" y="659" width="10" height="3" fill="#26332f"/>
<rect x="414" y="660" width="8" height="1" fill="#dc3545"/>
<rect x="424" y="652" width="11" height="10" fill="#26332f"/>
<rect x="425" y="653" width="9" height="8" fill="#dc3545"/>
<rect x="436" y="658" width="11" height="4" fill="#26332f"/>
<rect x="437" y="659" width="9" height="2" fill="#dc3545"/>
<rect x="448" y="656" width="10" height="6" fill="#26332f"/>
<rect x="449" y="657" width="8" height="4" fill="#dc3545"/>
<rect x="459" y="659" width="11" height="3" fill="#26332f"/>
<rect x="460" y="660" width="9" height="1" fill="#dc3545"/>
<rect x="471" y="647" width="10" height="15" fill="#26332f"/>
<rect x="472" y="648" width="8" height="13" fill="#dc3545"/>
<rect x="482" y="655" width="11" height="7" fill="#26332f"/>
<rect x="483" y="656" width="9" height="5" fill="#dc3545"/>
<rect x="529" y="656" width="10" height="6" fill="#26332f"/>
<rect x="530" y="657" width="8" height="4" fill="#dc3545"/>
<rect x="540" y="655" width="11" height="7" fill="#26332f"/>
<rect x="541" y="656" width="9" height="5" fill="#dc3545"/>
<rect x="552" y="659" width="11" height="3" fill="#26332f"/>
<rect x="553" y="660" width="9" height="1" fill="#dc3545"/>
<rect x="575" y="659" width="11" height="3" fill="#26332f"/>
<rect x="576" y="660" width="9" height="1" fill="#dc3545"/>
<rect x="598" y="649" width="11" height="13" fill="#26332f"/>
<rect x="599" y="650" width="9" height="11" fill="#dc3545"/>
<rect x="656" y="657" width="11" height="5" fill="#26332f"/>
<rect x="657" y="658" width="9" height="3" fill="#dc3545"/>
<rect x="726" y="657" width="11" height="5" fill="#26332f"/>
<rect x="727" y="658" width="9" height="3" fill="#dc3545"/>
<rect x="761" y="659" width="10" height="3" fill="#26332f"/>
<rect x="762" y="660" width="8" height="1" fill="#dc3545"/>
<rect x="784" y="659" width="11" height="3" fill="#26332f"/>
<rect x="785" y="660" width="9" height="1" fill="#dc3545"/>
<rect x="865" y="659" width="11" height="3" fill="#26332f"/>
<rect x="866" y="660" width="9" height="1" fill="#dc3545"/>
<rect x="958" y="659" width="11" height="3" fill="#26332f"/>
<rect x="959" y="660" width="9" height="1" fill="#dc3545"/>
<rect x="1178" y="659" width="11" height="3" fill="#26332f"/>
<rect x="1179" y="660" width="9" height="1" fill="#dc3545"/>
<line x1="29.5" y1="661" x2="29.5" y2="665" stroke="#9a9a9a" stroke-width="1"/>
<line x1="41.5" y1="661" x2="41.5" y2="663" stroke="#6a6a6a" stroke-width="1"/>
<line x1="52.5" y1="661" x2="52.5" y2="663" stroke="#6a6a6a" stroke-width="1"/>
<line x1="64.5" y1="661" x2="64.5" y2="663" stroke="#6a6a6a" stroke-width="1"/>
<line x1="75.5" y1="661" x2="75.5" y2="665" stroke="#9a9a9a" stroke-width="1"/>
<line x1="87.5" y1="661" x2="87.5" y2="663" stroke="#6a6a6a" stroke-width="1"/>
<line x1="99.5" y1="661" x2="99.5" y2="663" stroke="#6a6a6a" stroke-width="1"/>
<line x1="110.5" y1="661" x2="110.5" y2="663" stroke="#6a6a6a" stroke-width="1"/>
<line x1="122.5" y1="661" x2="122.5" y2="665" stroke="#9a9a9a" stroke-width="1"/>
<line x1="133.5" y1="661" x2="133.5" y2="663" stroke="#6a6a6a" stroke-width="1"/>
<line x1="145.5" y1="661" x2="145.5" y2="663" stroke="#6a6a6a" stroke-width="1"/>
<line x1="157.5" y1="661" x2="157.5" y2="663" stroke="#6a6a6a" stroke-width="1"/>
<line x1="168.5" y1="661" x2="168.5" y2="665" stroke="#9a9a9a" stroke-width="1"/>
<line x1="180.5" y1="661" x2="180.5" y2="663" stroke="#6a6a6a" stroke-width="1"/>
<line x1="191.5" y1="661" x2="191.5" y2="663" stroke="#6a6a6a" stroke-width="1"/>
<line x1="203.5" y1="661" x2="203.5" y2="663" stroke="#6a6a6a" stroke-width="1"/>
<line x1="215.5" y1="661" x2="215.5" y2="665" stroke="#9a9a9a" stroke-width="1"/>
<line x1="226.5" y1="661" x2="226.5" y2="663" stroke="#6a6a6a" stroke-width="1"/>
<line x1="238.5" y1="661" x2="238.5" y2="663" stroke="#6a6a6a" stroke-width="1"/>
<line x1="249.5" y1="661" x2="249.5" y2="663" stroke="#6a6a6a" stroke-width="1"/>
<line x1="261.5" y1="661" x2="261.5" y2="665" stroke="#9a9a9a" stroke-width="1"/>
<line x1="273.5" y1="661" x2="273.5" y2="663" stroke="#6a6a6a" stroke-width="1"/>
<line x1="284.5" y1="661" x2="284.5" y2="663" stroke="#6a6a6a" stroke-width="1"/>
<line x1="296.5" y1="661" x2="296.5" y2="663" stroke="#6a6a6a" stroke-width="1"/>
<line x1="307.5" y1="661" x2="307.5" y2="665" stroke="#9a9a9a" stroke-width="1"/>
<line x1="319.5" y1="661" x2="319.5" y2="663" stroke="#6a6a6a" stroke-width="1"/>
<line x1="330.5" y1="661" x2="330.5" y2="663" stroke="#6a6a6a" stroke-width="1"/>
<line x1="342.5" y1="661" x2="342.5" y2="663" stroke="#6a6a6a" stroke-width="1"/>
<line x1="354.5" y1="661" x2="354.5" y2="665" stroke="#9a9a9a" stroke-width="1"/>
<line x1="365.5" y1="661" x2="365.5" y2="663" stroke="#6a6a6a" stroke-width="1"/>
<line x1="377.5" y1="661" x2="377.5" y2="663" stroke="#6a6a6a" stroke-width="1"/>
<line x1="388.5" y1="661" x2="388.5" y2="663" stroke="#6a6a6a" stroke-width="1"/>
<line x1="400.5" y1="661" x2="400.5" y2="665" stroke="#9a9a9a" stroke-width="1"/>
<line x1="412.5" y1="661" x2="412.5" y2="663" stroke="#6a6a6a" stroke-width="1"/>
<line x1="423.5" y1="661" x2="423.5" y2="663" stroke="#6a6a6a" stroke-width="1"/>
<line x1="435.5" y1="661" x2="435.5" y2="663" stroke="#6a6a6a" stroke-width="1"/>
<line x1="446.5" y1="661" x2="446.5" y2="665" stroke="#9a9a9a" stroke-width="1"/>
<line x1="458.5" y1="661" x2="458.5" y2="663" stroke="#6a6a6a" stroke-width="1"/>
<line x1="470.5" y1="661" x2="470.5" y2="663" stroke="#6a6a6a" stroke-width="1"/>
<line x1="481.5" y1="661" x2="481.5" y2="663" stroke="#6a6a6a" stroke-width="1"/>
<line x1="493.5" y1="661" x2="493.5" y2="665" stroke="#9a9a9a" stroke-width="1"/>
<line x1="504.5" y1="661" x2="504.5" y2="663" stroke="#6a6a6a" stroke-width="1"/>
<line x1="516.5" y1="661" x2="516.5" y2="663" stroke="#6a6a6a" stroke-width="1"/>
<line x1="528.5" y1="661" x2="528.5" y2="663" stroke="#6a6a6a" stroke-width="1"/>
<line x1="539.5" y1="661" x2="539.5" y2="665" stroke="#9a9a9a" stroke-width="1"/>
<line x1="551.5" y1="661" x2="551.5" y2="663" stroke="#6a6a6a" stroke-width="1"/>
<line x1="563.5" y1="661" x2="563.5" y2="663" stroke="#6a6a6a" stroke-width="1"/>
<line x1="574.5" y1="661" x2="574.5" y2="663" stroke="#6a6a6a" stroke-width="1"/>
<line x1="586.5" y1="661" x2="586.5" y2="665" stroke="#9a9a9a" stroke-width="1"/>
<line x1="597.5" y1="661" x2="597.5" y2="663" stroke="#6a6a6a" stroke-width="1"/>
<line x1="609.5" y1="661" x2="609.5" y2="663" stroke="#6a6a6a" stroke-width="1"/>
<line x1="621.5" y1="661" x2="621.5" y2="663" stroke="#6a6a6a" stroke-width="1"/>
<line x1="632.5" y1="661" x2="632.5" y2="665" stroke="#9a9a9a" stroke-width="1"/>
<line x1="644.5" y1="661" x2="644.5" y2="663" stroke="#6a6a6a" stroke-width="1"/>
<line x1="655.5" y1="661" x2="655.5" y2="663" stroke="#6a6a6a" stroke-width="1"/>
<line x1="667.5" y1="661" x2="667.5" y2="663" stroke="#6a6a6a" stroke-width="1"/>
<line x1="679.5" y1="661" x2="679.5" y2="665" stroke="#9a9a9a" stroke-width="1"/>
<line x1="690.5" y1="661" x2="690.5" y2="663" stroke="#6a6a6a" stroke-width="1"/>
<line x1="702.5" y1="661" x2="702.5" y2="663" stroke="#6a6a6a" stroke-width="1"/>
<line x1="713.5" y1="661" x2="713.5" y2="663" stroke="#6a6a6a" stroke-width="1"/>
<line x1="725.5" y1="661" x2="725.5" y2="665" stroke="#9a9a9a" stroke-width="1"/>
<line x1="737.5" y1="661" x2="737.5" y2="663" stroke="#6a6a6a" stroke-width="1"/>
<line x1="748.5" y1="661" x2="748.5" y2="663" stroke="#6a6a6a" stroke-width="1"/>
<line x1="760.5" y1="661" x2="760.5" y2="663" stroke="#6a6a6a" stroke-width="1"/>
<line x1="771.5" y1="661" x2="771.5" y2="665" stroke="#9a9a9a" stroke-width="1"/>
<line x1="783.5" y1="661" x2="783.5" y2="663" stroke="#6a6a6a" stroke-width="1"/>
<line x1="795.5" y1="661" x2="795.5" y2="663" stroke="#6a6a6a" stroke-width="1"/>
<line x1="806.5" y1="661" x2="806.5" y2="663" stroke="#6a6a6a" stroke-width="1"/>
<line x1="818.5" y1="661" x2="818.5" y2="665" stroke="#9a9a9a" stroke-width="1"/>
<line x1="829.5" y1="661" x2="829.5" y2="663" stroke="#6a6a6a" stroke-width="1"/>
<line x1="841.5" y1="661" x2="841.5" y2="663" stroke="#6a6a6a" stroke-width="1"/>
<line x1="853.5" y1="661" x2="853.5" y2="663" stroke="#6a6a6a" stroke-width="1"/>
<line x1="864.5" y1="661" x2="864.5" y2="665" stroke="#9a9a9a" stroke-width="1"/>
<line x1="876.5" y1="661" x2="876.5" y2="663" stroke="#6a6a6a" stroke-width="1"/>
<line x1="887.5" y1="661" x2="887.5" y2="663" stroke="#6a6a6a" stroke-width="1"/>
<line x1="899.5" y1="661" x2="899.5" y2="663" stroke="#6a6a6a" stroke-width="1"/>
<line x1="911.5" y1="661" x2="911.5" y2="665" stroke="#9a9a9a" stroke-width="1"/>
<line x1="922.5" y1="661" x2="922.5" y2="663" stroke="#6a6a6a" stroke-width="1"/>
<line x1="934.5" y1="661" x2="934.5" y2="663" stroke="#6a6a6a" stroke-width="1"/>
<line x1="945.5" y1="661" x2="945.5" y2="663" stroke="#6a6a6a" stroke-width="1"/>
<line x1="957.5" y1="661" x2="957.5" y2="665" stroke="#9a9a9a" stroke-width="1"/>
<line x1="969.5" y1="661" x2="969.5" y2="663" stroke="#6a6a6a" stroke-width="1"/>
<line x1="980.5" y1="661" x2="980.5" y2="663" stroke="#6a6a6a" stroke-width="1"/>
<line x1="992.5" y1="661" x2="992.5" y2="663" stroke="#6a6a6a" stroke-width="1"/>
<line x1="1003.5" y1="661" x2="1003.5" y2="665" stroke="#9a9a9a" stroke-width="1"/>
<line x1="1015.5" y1="661" x2="1015.5" y2="663" stroke="#6a6a6a" stroke-width="1"/>
<line x1="1027.5" y1="661" x2="1027.5" y2="663" stroke="#6a6a6a" stroke-width="1"/>
<line x1="1038.5" y1="661" x2="1038.5" y2="663" stroke="#6a6a6a" stroke-width="1"/>
<line x1="1050.5" y1="661" x2="1050.5" y2="665" stroke="#9a9a9a" stroke-width="1"/>
<line x1="1061.5" y1="661" x2="1061.5" y2="663" stroke="#6a6a6a" stroke-width="1"/>
<line x1="1073.5" y1="661" x2="1073.5" y2="663" stroke="#6a6a6a" stroke-width="1"/>
<line x1="1085.5" y1="661" x2="1085.5" y2="663" stroke="#6a6a6a" stroke-width="1"/>
<line x1="1096.5" y1="661" x2="1096.5" y2="665" stroke="#9a9a9a" stroke-width="1"/>
<line x1="1108.5" y1="661" x2="1108.5" y2="663" stroke="#6a6a6a" stroke-width="1"/>
<line x1="1119.5" y1="661" x2="1119.5" y2="663" stroke="#6a6a6a" stroke-width="1"/>
<line x1="1131.5" y1="661" x2="1131.5" y2="663" stroke="#6a6a6a" stroke-width="1"/>
<line x1="1143.5" y1="661" x2="1143.5" y2="665" stroke="#9a9a9a" stroke-width="1"/>
<line x1="1154.5" y1="661" x2="1154.5" y2="663" stroke="#6a6a6a" stroke-width="1"/>
<line x1="1166.5" y1="661" x2="1166.5" y2="663" stroke="#6a6a6a" stroke-width="1"/>
<line x1="1177.5" y1="661" x2="1177.5" y2="663" stroke="#6a6a6a" stroke-width="1"/>
<line x1="1189.5" y1="661" x2="1189.5" y2="665" stroke="#9a9a9a" stroke-width="1"/>
<text transform="translate(25.1,681.6) scale(0.52,1)" font-size="20" letter-spacing="2.6" fill="#8c8c8c" stroke="#8c8c8c" stroke-width="0.4" font-family="Liberation Sans, sans-serif">1.33</text>
<text transform="translate(71.5,681.6) scale(0.52,1)" font-size="20" letter-spacing="2.6" fill="#8c8c8c" stroke="#8c8c8c" stroke-width="0.4" font-family="Liberation Sans, sans-serif">5.24</text>
<text transform="translate(117.9,681.6) scale(0.52,1)" font-size="20" letter-spacing="2.6" fill="#8c8c8c" stroke="#8c8c8c" stroke-width="0.4" font-family="Liberation Sans, sans-serif">9.14</text>
<text transform="translate(164.3,681.6) scale(0.52,1)" font-size="20" letter-spacing="2.6" fill="#8c8c8c" stroke="#8c8c8c" stroke-width="0.4" font-family="Liberation Sans, sans-serif">13.05</text>
<text transform="translate(210.7,681.6) scale(0.52,1)" font-size="20" letter-spacing="2.6" fill="#8c8c8c" stroke="#8c8c8c" stroke-width="0.4" font-family="Liberation Sans, sans-serif">16.96</text>
<text transform="translate(257.1,681.6) scale(0.52,1)" font-size="20" letter-spacing="2.6" fill="#8c8c8c" stroke="#8c8c8c" stroke-width="0.4" font-family="Liberation Sans, sans-serif">20.86</text>
<text transform="translate(303.5,681.6) scale(0.52,1)" font-size="20" letter-spacing="2.6" fill="#8c8c8c" stroke="#8c8c8c" stroke-width="0.4" font-family="Liberation Sans, sans-serif">24.77</text>
<text transform="translate(349.9,681.6) scale(0.52,1)" font-size="20" letter-spacing="2.6" fill="#8c8c8c" stroke="#8c8c8c" stroke-width="0.4" font-family="Liberation Sans, sans-serif">28.68</text>
<text transform="translate(396.3,681.6) scale(0.52,1)" font-size="20" letter-spacing="2.6" fill="#8c8c8c" stroke="#8c8c8c" stroke-width="0.4" font-family="Liberation Sans, sans-serif">32.58</text>
<text transform="translate(442.7,681.6) scale(0.52,1)" font-size="20" letter-spacing="2.6" fill="#8c8c8c" stroke="#8c8c8c" stroke-width="0.4" font-family="Liberation Sans, sans-serif">36.49</text>
<text transform="translate(489.1,681.6) scale(0.52,1)" font-size="20" letter-spacing="2.6" fill="#8c8c8c" stroke="#8c8c8c" stroke-width="0.4" font-family="Liberation Sans, sans-serif">40.40</text>
<text transform="translate(535.5,681.6) scale(0.52,1)" font-size="20" letter-spacing="2.6" fill="#8c8c8c" stroke="#8c8c8c" stroke-width="0.4" font-family="Liberation Sans, sans-serif">44.30</text>
<text transform="translate(581.9,681.6) scale(0.52,1)" font-size="20" letter-spacing="2.6" fill="#8c8c8c" stroke="#8c8c8c" stroke-width="0.4" font-family="Liberation Sans, sans-serif">48.21</text>
<text transform="translate(628.3,681.6) scale(0.52,1)" font-size="20" letter-spacing="2.6" fill="#8c8c8c" stroke="#8c8c8c" stroke-width="0.4" font-family="Liberation Sans, sans-serif">52.12</text>
<text transform="translate(674.7,681.6) scale(0.52,1)" font-size="20" letter-spacing="2.6" fill="#8c8c8c" stroke="#8c8c8c" stroke-width="0.4" font-family="Liberation Sans, sans-serif">56.03</text>
<text transform="translate(721.1,681.6) scale(0.52,1)" font-size="20" letter-spacing="2.6" fill="#8c8c8c" stroke="#8c8c8c" stroke-width="0.4" font-family="Liberation Sans, sans-serif">59.93</text>
<text transform="translate(767.5,681.6) scale(0.52,1)" font-size="20" letter-spacing="2.6" fill="#8c8c8c" stroke="#8c8c8c" stroke-width="0.4" font-family="Liberation Sans, sans-serif">63.84</text>
<text transform="translate(813.9,681.6) scale(0.52,1)" font-size="20" letter-spacing="2.6" fill="#8c8c8c" stroke="#8c8c8c" stroke-width="0.4" font-family="Liberation Sans, sans-serif">67.75</text>
<text transform="translate(860.3,681.6) scale(0.52,1)" font-size="20" letter-spacing="2.6" fill="#8c8c8c" stroke="#8c8c8c" stroke-width="0.4" font-family="Liberation Sans, sans-serif">71.65</text>
<text transform="translate(906.7,681.6) scale(0.52,1)" font-size="20" letter-spacing="2.6" fill="#8c8c8c" stroke="#8c8c8c" stroke-width="0.4" font-family="Liberation Sans, sans-serif">75.56</text>
<text transform="translate(953.1,681.6) scale(0.52,1)" font-size="20" letter-spacing="2.6" fill="#8c8c8c" stroke="#8c8c8c" stroke-width="0.4" font-family="Liberation Sans, sans-serif">79.47</text>
<text transform="translate(999.5,681.6) scale(0.52,1)" font-size="20" letter-spacing="2.6" fill="#8c8c8c" stroke="#8c8c8c" stroke-width="0.4" font-family="Liberation Sans, sans-serif">83.37</text>
<text transform="translate(1045.9,681.6) scale(0.52,1)" font-size="20" letter-spacing="2.6" fill="#8c8c8c" stroke="#8c8c8c" stroke-width="0.4" font-family="Liberation Sans, sans-serif">87.28</text>
<text transform="translate(1092.3,681.6) scale(0.52,1)" font-size="20" letter-spacing="2.6" fill="#8c8c8c" stroke="#8c8c8c" stroke-width="0.4" font-family="Liberation Sans, sans-serif">91.19</text>
<text transform="translate(1138.7,681.6) scale(0.52,1)" font-size="20" letter-spacing="2.6" fill="#8c8c8c" stroke="#8c8c8c" stroke-width="0.4" font-family="Liberation Sans, sans-serif">95.09</text>
<text transform="translate(1185.1,681.6) scale(0.52,1)" font-size="20" letter-spacing="2.6" fill="#8c8c8c" stroke="#8c8c8c" stroke-width="0.4" font-family="Liberation Sans, sans-serif">99</text>
<text transform="translate(1208.8999999999999,414.2) scale(0.7,1)" font-size="12.6" letter-spacing="-0.6" fill="#8c8c8c" stroke="#8c8c8c" stroke-width="0.35" font-family="Liberation Sans, sans-serif">14,<tspan dx="-0.7">000</tspan></text>
<text transform="translate(1208.8999999999999,439.2) scale(0.7,1)" font-size="12.6" letter-spacing="-0.6" fill="#8c8c8c" stroke="#8c8c8c" stroke-width="0.35" font-family="Liberation Sans, sans-serif">12,<tspan dx="-0.7">600</tspan></text>
<text transform="translate(1208.8999999999999,464.2) scale(0.7,1)" font-size="12.6" letter-spacing="-0.6" fill="#8c8c8c" stroke="#8c8c8c" stroke-width="0.35" font-family="Liberation Sans, sans-serif">11,<tspan dx="-0.7">200</tspan></text>
<text transform="translate(1208.8999999999999,489.2) scale(0.7,1)" font-size="12.6" letter-spacing="-0.6" fill="#8c8c8c" stroke="#8c8c8c" stroke-width="0.35" font-family="Liberation Sans, sans-serif">9,<tspan dx="-0.7">800</tspan></text>
<text transform="translate(1208.8999999999999,514.2) scale(0.7,1)" font-size="12.6" letter-spacing="-0.6" fill="#8c8c8c" stroke="#8c8c8c" stroke-width="0.35" font-family="Liberation Sans, sans-serif">8,<tspan dx="-0.7">400</tspan></text>
<text transform="translate(1208.8999999999999,539.2) scale(0.7,1)" font-size="12.6" letter-spacing="-0.6" fill="#8c8c8c" stroke="#8c8c8c" stroke-width="0.35" font-family="Liberation Sans, sans-serif">7,<tspan dx="-0.7">000</tspan></text>
<text transform="translate(1208.8999999999999,564.2) scale(0.7,1)" font-size="12.6" letter-spacing="-0.6" fill="#8c8c8c" stroke="#8c8c8c" stroke-width="0.35" font-family="Liberation Sans, sans-serif">5,<tspan dx="-0.7">600</tspan></text>
<text transform="translate(1208.8999999999999,589.2) scale(0.7,1)" font-size="12.6" letter-spacing="-0.6" fill="#8c8c8c" stroke="#8c8c8c" stroke-width="0.35" font-family="Liberation Sans, sans-serif">4,<tspan dx="-0.7">200</tspan></text>
<text transform="translate(1208.8999999999999,614.2) scale(0.7,1)" font-size="12.6" letter-spacing="-0.6" fill="#8c8c8c" stroke="#8c8c8c" stroke-width="0.35" font-family="Liberation Sans, sans-serif">2,<tspan dx="-0.7">800</tspan></text>
<text transform="translate(1208.8999999999999,639.2) scale(0.7,1)" font-size="12.6" letter-spacing="-0.6" fill="#8c8c8c" stroke="#8c8c8c" stroke-width="0.35" font-family="Liberation Sans, sans-serif">1,<tspan dx="-0.7">400</tspan></text>
<text x="600" y="704.8" font-size="19.3" fill="#8c8c8c" stroke="#8c8c8c" stroke-width="0.3" textLength="75" lengthAdjust="spacingAndGlyphs" font-family="Liberation Sans, sans-serif">Price, USD</text>
<text transform="translate(1269.5,635) rotate(-90)" x="0" y="0" font-size="21" fill="#8c8c8c" stroke="#8c8c8c" stroke-width="0.3" textLength="206" lengthAdjust="spacingAndGlyphs" font-family="Liberation Sans, sans-serif">Number of services provided</text>
<text transform="translate(124.4,413.7) scale(0.6,1)" font-size="12.8" letter-spacing="0.2" fill="#26332f" stroke="#26332f" stroke-width="2" stroke-opacity="0.8" font-family="Liberation Sans, sans-serif">13,<tspan dx="-0.4">307</tspan></text>
<text transform="translate(124.4,413.7) scale(0.6,1)" font-size="12.8" letter-spacing="0.2" fill="#dc3545" stroke="#dc3545" stroke-width="0.45" font-family="Liberation Sans, sans-serif">13,<tspan dx="-0.4">307</tspan></text>
<rect x="20" y="710" width="41" height="21" fill="#22d898"/>
<text x="72" y="730.2" font-size="32" fill="#22d898" stroke="#22d898" stroke-width="0.5" textLength="132.5" lengthAdjust="spacingAndGlyphs" font-family="Liberation Sans, sans-serif">= price paid</text>
<rect x="250" y="710" width="41" height="21" fill="#dc3545"/>
<text x="302" y="730.2" font-size="32" fill="#dc3545" stroke="#dc3545" stroke-width="0.5" textLength="198" lengthAdjust="spacingAndGlyphs" font-family="Liberation Sans, sans-serif">= price requested</text>
<text x="978.8" y="735.4" font-size="42" fill="#464646" stroke="#464646" stroke-width="0.6" textLength="309.5" lengthAdjust="spacingAndGlyphs" font-family="Liberation Sans, sans-serif">HealthcareCost.info</text>
</svg>
</body></html>
